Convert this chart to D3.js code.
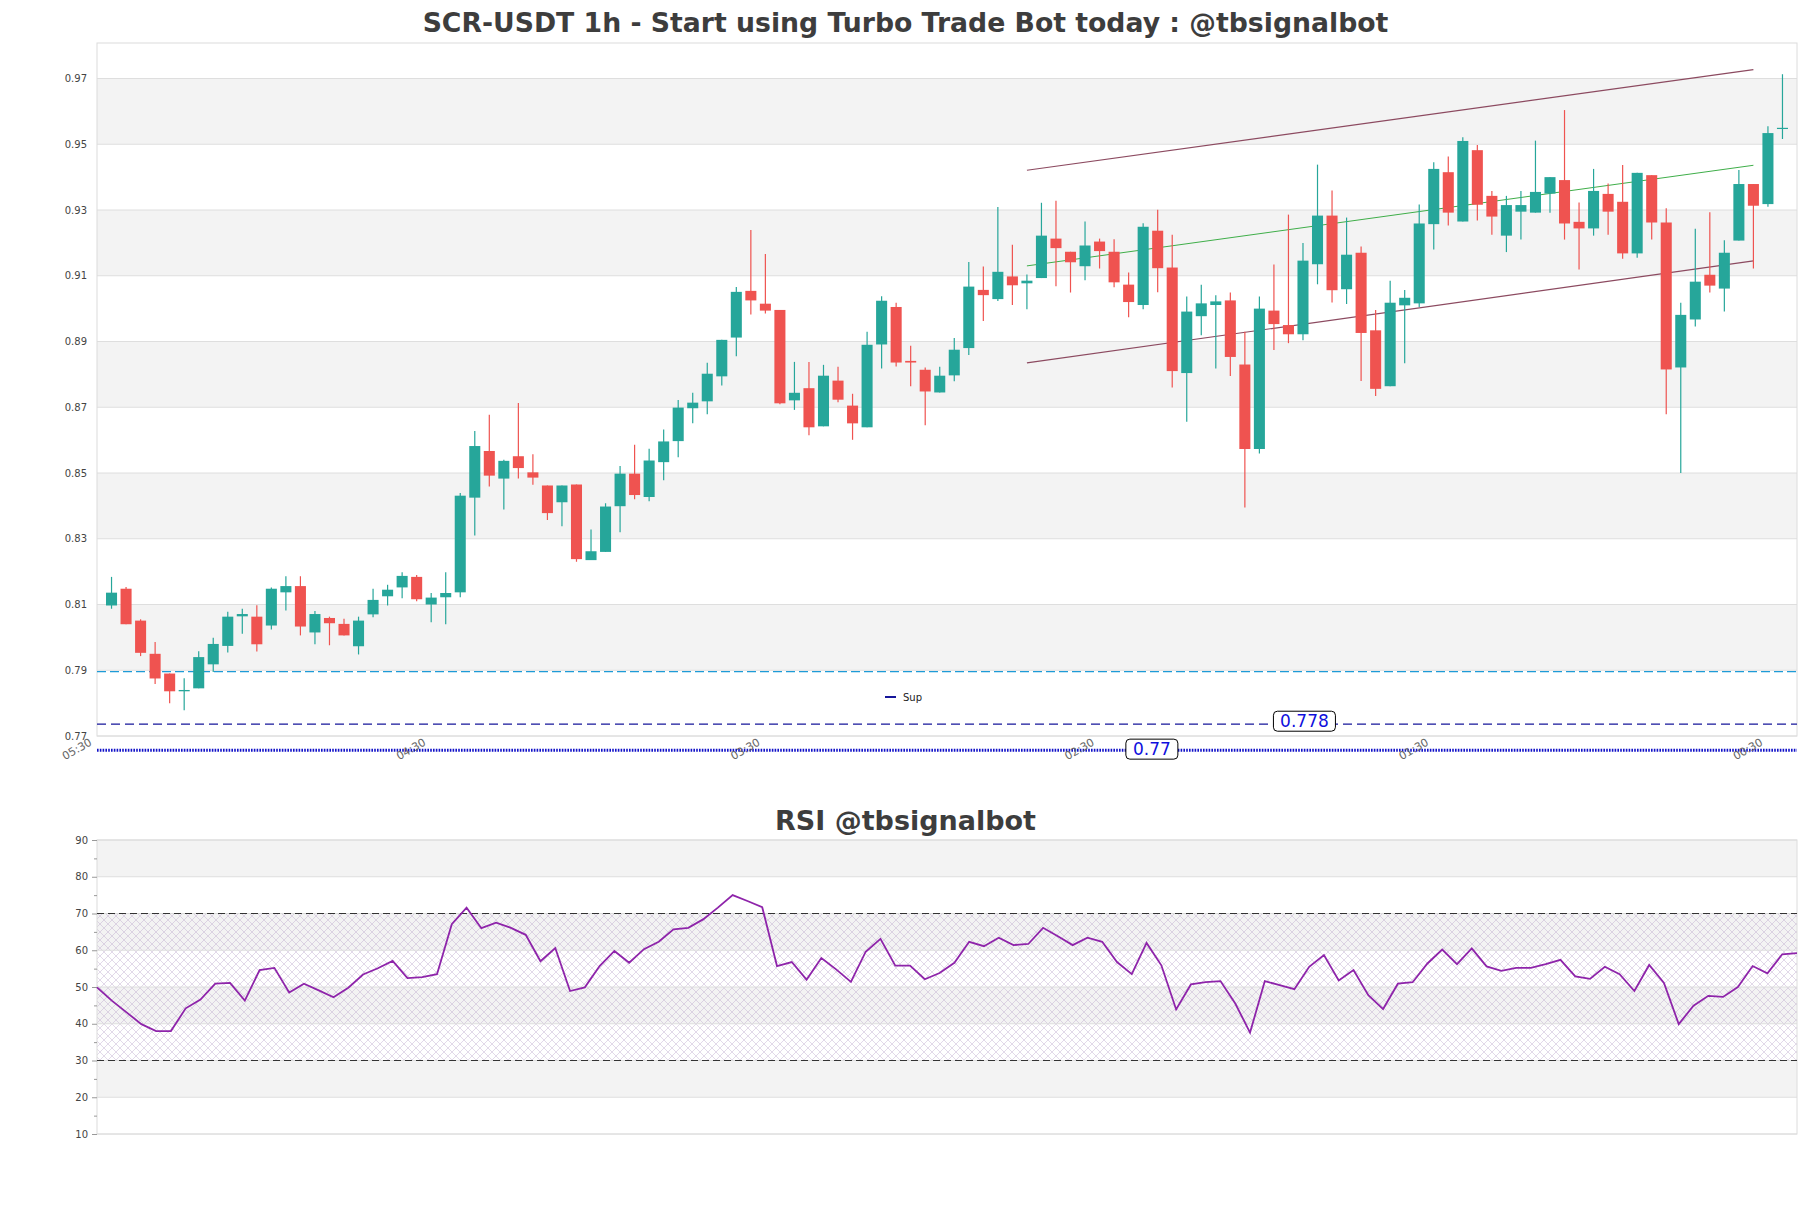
<!DOCTYPE html>
<html>
<head>
<meta charset="utf-8">
<script src="https://cdn.jsdelivr.net/npm/d3@7"></script>
<style>
  body { margin: 0; background: #fff; }
  svg { display: block; font-family: "DejaVu Sans", sans-serif; }
</style>
</head>
<body>
<script>
var w = 1811;
var h = 1208;

// candles, 1h, oldest first
var opens = [0.8097,0.8148,0.8051,0.7950,0.7890,0.7836,0.7845,0.7918,0.7974,0.8064,
  0.8063,0.8036,0.8137,0.8156,0.8015,0.8059,0.8041,0.7973,0.8070,0.8125,
  0.8152,0.8184,0.8100,0.8122,0.8137,0.8425,0.8567,0.8483,0.8551,0.8502,
  0.8462,0.8411,0.8465,0.8235,0.8260,0.8399,0.8498,0.8427,0.8533,0.8597,
  0.8697,0.8718,0.8794,0.8912,0.9054,0.9015,0.8996,0.8721,0.8758,0.8642,
  0.8781,0.8705,0.8639,0.8891,0.9005,0.8841,0.8814,0.8745,0.8797,0.8880,
  0.9057,0.9029,0.9098,0.9077,0.9093,0.9213,0.9173,0.9129,0.9204,0.9173,
  0.9073,0.9011,0.9237,0.9125,0.8804,0.8977,0.9011,0.9025,0.8830,0.8573,
  0.8994,0.8950,0.8922,0.9135,0.9283,0.9059,0.9170,0.8934,0.8764,0.9010,
  0.9016,0.9257,0.9415,0.9265,0.9482,0.9343,0.9222,0.9295,0.9292,0.9350,
  0.9391,0.9264,0.9244,0.9349,0.9325,0.9168,0.9406,0.9262,0.8821,0.8967,
  0.9103,0.9061,0.9207,0.9379,0.9318,0.9548];
var highs = [0.8184,0.8153,0.8055,0.7986,0.7890,0.7876,0.7958,0.7999,0.8078,0.8087,
  0.8098,0.8152,0.8186,0.8186,0.8080,0.8063,0.8057,0.8063,0.8148,0.8160,
  0.8198,0.8190,0.8135,0.8198,0.8439,0.8628,0.8677,0.8540,0.8713,0.8557,
  0.8462,0.8462,0.8465,0.8328,0.8408,0.8521,0.8586,0.8574,0.8632,0.8722,
  0.8744,0.8835,0.8905,0.9066,0.9239,0.9166,0.8996,0.8838,0.8838,0.8829,
  0.8823,0.8741,0.8930,0.9038,0.9018,0.8887,0.8821,0.8823,0.8911,0.9142,
  0.9128,0.9309,0.9194,0.9104,0.9322,0.9328,0.9173,0.9265,0.9213,0.9211,
  0.9110,0.9260,0.9301,0.9225,0.9037,0.9073,0.9041,0.9049,0.8930,0.9037,
  0.9134,0.9286,0.9200,0.9438,0.9359,0.9277,0.9189,0.8996,0.9085,0.9057,
  0.9317,0.9445,0.9463,0.9521,0.9498,0.9358,0.9343,0.9358,0.9511,0.9400,
  0.9604,0.9323,0.9425,0.9381,0.9437,0.9413,0.9406,0.9305,0.9018,0.9243,
  0.9293,0.9208,0.9422,0.9379,0.9555,0.9713];
var lows = [0.8087,0.8040,0.7943,0.7858,0.7800,0.7778,0.7845,0.7895,0.7954,0.8011,
  0.7957,0.8024,0.8082,0.8006,0.7979,0.7976,0.8006,0.7948,0.8061,0.8097,
  0.8119,0.8110,0.8046,0.8040,0.8122,0.8310,0.8459,0.8389,0.8483,0.8464,
  0.8357,0.8338,0.8230,0.8235,0.8260,0.8320,0.8420,0.8414,0.8478,0.8548,
  0.8651,0.8679,0.8766,0.8855,0.8982,0.8985,0.8709,0.8692,0.8615,0.8642,
  0.8715,0.8601,0.8639,0.8818,0.8824,0.8764,0.8645,0.8745,0.8779,0.8859,
  0.8962,0.9023,0.9011,0.8998,0.9093,0.9068,0.9049,0.9086,0.9122,0.9065,
  0.8974,0.8998,0.9050,0.8760,0.8656,0.8919,0.8818,0.8795,0.8395,0.8559,
  0.8874,0.8895,0.8904,0.9074,0.9019,0.9014,0.8780,0.8734,0.8764,0.8834,
  0.9005,0.9180,0.9253,0.9265,0.9268,0.9225,0.9172,0.9210,0.9292,0.9292,
  0.9210,0.9119,0.9222,0.9225,0.9152,0.9155,0.9210,0.8679,0.8500,0.8946,
  0.9049,0.8991,0.9207,0.9122,0.9310,0.9516];
var closes = [0.8136,0.8040,0.7953,0.7875,0.7836,0.7840,0.7940,0.7980,0.8063,0.8071,
  0.7979,0.8148,0.8156,0.8033,0.8071,0.8043,0.8006,0.8051,0.8114,0.8145,
  0.8187,0.8116,0.8121,0.8135,0.8431,0.8582,0.8492,0.8537,0.8515,0.8486,
  0.8378,0.8462,0.8238,0.8262,0.8398,0.8498,0.8433,0.8538,0.8596,0.8699,
  0.8714,0.8802,0.8905,0.9051,0.9025,0.8994,0.8712,0.8744,0.8639,0.8796,
  0.8723,0.8651,0.8890,0.9024,0.8836,0.8836,0.8748,0.8796,0.8875,0.9067,
  0.9041,0.9112,0.9071,0.9085,0.9222,0.9184,0.9141,0.9192,0.9175,0.9080,
  0.9020,0.9249,0.9123,0.8810,0.8991,0.9016,0.9022,0.8853,0.8573,0.9000,
  0.8953,0.8922,0.9146,0.9283,0.9056,0.9164,0.8926,0.8756,0.9018,0.9033,
  0.9259,0.9425,0.9292,0.9510,0.9316,0.9280,0.9315,0.9315,0.9355,0.9400,
  0.9259,0.9244,0.9358,0.9295,0.9168,0.9413,0.9262,0.8815,0.8981,0.9082,
  0.9070,0.9170,0.9379,0.9313,0.9534,0.9550];

var rsiValues = [49.9,46.3,43.1,39.9,38.0,38.0,44.2,46.6,50.9,51.1,
  46.3,54.6,55.2,48.5,50.9,49.1,47.2,49.8,53.4,55.1,
  57.1,52.4,52.7,53.5,67.1,71.6,66.0,67.5,66.1,64.2,
  57.0,60.6,48.9,49.9,55.7,59.8,56.6,60.3,62.3,65.7,
  66.1,68.4,71.6,75.0,73.4,71.7,55.7,56.8,52.0,57.9,
  54.8,51.4,59.6,63.1,55.8,55.8,52.1,53.8,56.6,62.3,
  61.1,63.4,61.4,61.7,66.1,63.8,61.4,63.4,62.3,56.8,
  53.5,62.0,55.9,43.9,50.7,51.3,51.6,45.5,37.6,51.6,
  50.5,49.4,55.5,58.7,51.8,54.6,47.8,44.0,50.9,51.3,
  56.4,60.2,56.2,60.5,55.6,54.4,55.2,55.2,56.2,57.4,
  52.9,52.2,55.5,53.5,48.9,56.0,51.1,39.9,44.9,47.6,
  47.3,50.0,55.7,53.7,58.9,59.2];

var priceTicks = [0.77,0.79,0.81,0.83,0.85,0.87,0.89,0.91,0.93,0.95,0.97];
var timeTickIndex = [-1, 22, 45, 68, 91, 114];
var timeTickLabels = ["05:30","04:30","03:30","02:30","01:30","00:30"];
var rsiTicks = [10,20,30,40,50,60,70,80,90];
var rsiMinorTicks = [15,25,35,45,55,65,75,85];
var rsiLevels = [30, 70];

// channel drawn on the right part: [candle index, price]
var channelUpper = [[63, 0.9421], [113, 0.9727]];
var channelMid = [[63, 0.9130], [113, 0.9436]];
var channelLower = [[63, 0.8835], [113, 0.9145]];

var supportValues = [0.7896, 0.7736, 0.7657];
var supportNames = ["", "0.778", "0.77"];

var upColor = "#26a69a";
var downColor = "#ef5350";

var svg = d3.select("body")
        .append("svg")
        .attr("width", w)
        .attr("height", h);

// ---------- main price chart ----------
var x = d3.scaleLinear()
        .domain([-1, closes.length])
        .range([97, 1797]);
var y = d3.scaleLinear()
        .domain([0.77, 0.9808])
        .range([736, 43]);

var main = svg.append("g");

var bands = priceTicks.slice(0, -1)
        .map(function (d, i) { return [d, priceTicks[i + 1]]; })
        .filter(function (d, i) { return i % 2 === 1; });

main.selectAll("rect.band")
        .data(bands)
        .enter()
        .append("rect")
        .attr("class", "band")
        .attr("x", x.range()[0])
        .attr("width", x.range()[1] - x.range()[0])
        .attr("y", function (d) { return y(d[1]); })
        .attr("height", function (d) { return y(d[0]) - y(d[1]); })
        .style("fill", "#f3f3f3");

main.selectAll("line.grid")
        .data(priceTicks)
        .enter()
        .append("line")
        .attr("class", "grid")
        .attr("x1", x.range()[0])
        .attr("x2", x.range()[1])
        .attr("y1", function (d) { return y(d); })
        .attr("y2", function (d) { return y(d); })
        .style("stroke", "#dedede")
        .style("stroke-width", 1);

main.append("rect")
        .attr("x", 97).attr("y", 43)
        .attr("width", 1700).attr("height", 693)
        .style("fill", "none")
        .style("stroke", "#dcdcdc");

var yAxis = main.append("g")
        .attr("transform", "translate(97,0)")
        .call(d3.axisLeft(y).tickValues(priceTicks).tickSize(0).tickPadding(10)
                .tickFormat(d3.format(".2f")));
yAxis.select(".domain").remove();
yAxis.selectAll("text")
        .style("font-family", "DejaVu Sans")
        .style("font-size", "10px")
        .style("fill", "#444");

// support / resistance lines
main.append("line")
        .attr("x1", 97).attr("x2", 1797)
        .attr("y1", y(supportValues[0])).attr("y2", y(supportValues[0]))
        .style("stroke", "#1e9bd7")
        .style("stroke-width", 1.3)
        .style("stroke-dasharray", "9,4");

main.append("line")
        .attr("x1", 97).attr("x2", 1797)
        .attr("y1", y(supportValues[1])).attr("y2", y(supportValues[1]))
        .style("stroke", "#16169a")
        .style("stroke-width", 1.3)
        .style("stroke-dasharray", "9,5");

main.append("line")
        .attr("x1", 97).attr("x2", 1797)
        .attr("y1", y(supportValues[2])).attr("y2", y(supportValues[2]))
        .style("stroke", "#1212c8")
        .style("stroke-width", 3)
        .style("stroke-dasharray", "1.6,1.2");

// time axis
var xAxis = main.append("g")
        .attr("transform", "translate(0,736)")
        .call(d3.axisBottom(x).tickValues(timeTickIndex).tickSize(0)
                .tickFormat(function (d, i) { return timeTickLabels[i]; }));
xAxis.select(".domain").remove();
xAxis.selectAll("text")
        .attr("x", 0).attr("y", 0).attr("dy", 0)
        .attr("transform", "translate(-5,8.5) rotate(-30)")
        .style("text-anchor", "end")
        .style("font-family", "DejaVu Sans")
        .style("font-size", "11px")
        .style("fill", "#666");

// label boxes for supports
function levelLabel(idx, value, text, boxW) {
    var cx = x(idx), cy = y(value);
    var g = main.append("g");
    g.append("rect")
            .attr("x", cx - boxW / 2).attr("y", cy - 10)
            .attr("width", boxW).attr("height", 20)
            .attr("rx", 4)
            .style("fill", "#fff")
            .style("stroke", "#000")
            .style("stroke-width", 1);
    g.append("text")
            .attr("x", cx).attr("y", cy + 6)
            .attr("text-anchor", "middle")
            .style("font-size", "17px")
            .style("fill", "#1010dd")
            .text(text);
}
levelLabel(82.1, supportValues[1] + 0.0009, supportNames[1], 62);
levelLabel(71.6, supportValues[2] + 0.0003, supportNames[2], 52);

// legend
main.append("line")
        .attr("x1", 885).attr("x2", 896)
        .attr("y1", 697).attr("y2", 697)
        .style("stroke", "#16169a")
        .style("stroke-width", 2);
main.append("text")
        .attr("x", 903).attr("y", 701)
        .style("font-size", "10px")
        .style("fill", "#222")
        .text("Sup");

// channel lines
var line = d3.line()
        .x(function (d) { return x(d[0]); })
        .y(function (d) { return y(d[1]); });

main.append("path").attr("d", line(channelUpper))
        .style("fill", "none").style("stroke", "#8c4a60").style("stroke-width", 1.2);
main.append("path").attr("d", line(channelLower))
        .style("fill", "none").style("stroke", "#8c4a60").style("stroke-width", 1.2);
main.append("path").attr("d", line(channelMid))
        .style("fill", "none").style("stroke", "#3fae49").style("stroke-width", 1);

// candles
var candles = closes.map(function (c, i) {
    return {i: i, o: opens[i], h: highs[i], l: lows[i], c: c};
});
var bodyW = (x(1) - x(0)) * 0.76;

main.append("g").selectAll("line")
        .data(candles)
        .enter()
        .append("line")
        .attr("x1", function (d) { return x(d.i); })
        .attr("x2", function (d) { return x(d.i); })
        .attr("y1", function (d) { return y(d.h); })
        .attr("y2", function (d) { return y(d.l); })
        .style("stroke", function (d) { return d.c >= d.o ? upColor : downColor; })
        .style("stroke-width", 1.2);

main.append("g").selectAll("rect")
        .data(candles)
        .enter()
        .append("rect")
        .attr("x", function (d) { return x(d.i) - bodyW / 2; })
        .attr("y", function (d) { return y(Math.max(d.o, d.c)); })
        .attr("width", bodyW)
        .attr("height", function (d) { return Math.max(1.2, Math.abs(y(d.o) - y(d.c))); })
        .style("fill", function (d) { return d.c >= d.o ? upColor : downColor; });

svg.append("text")
        .attr("x", w / 2).attr("y", 32)
        .attr("text-anchor", "middle")
        .style("font-size", "26.7px")
        .style("font-weight", "bold")
        .style("fill", "#3d3d3d")
        .text("SCR-USDT 1h - Start using Turbo Trade Bot today : @tbsignalbot");

// ---------- RSI ----------
var xr = d3.scaleLinear()
        .domain([0, rsiValues.length - 1])
        .range([97, 1797]);
var yr = d3.scaleLinear()
        .domain([10, 90])
        .range([1134, 840]);

var defs = svg.append("defs");
var pat = defs.append("pattern")
        .attr("id", "hatch")
        .attr("patternUnits", "userSpaceOnUse")
        .attr("width", 8).attr("height", 8);
pat.append("path").attr("d", "M0,0L8,8M8,0L0,8M-1,7L1,9M7,-1L9,1")
        .style("stroke", "#b49cc6")
        .style("stroke-width", 0.55)
        .style("opacity", 0.7);

var rsi = svg.append("g");

var rsiBands = [[80, 90], [60, 70], [40, 50], [20, 30]];
rsi.selectAll("rect.band")
        .data(rsiBands)
        .enter()
        .append("rect")
        .attr("x", 97).attr("width", 1700)
        .attr("y", function (d) { return yr(d[1]); })
        .attr("height", function (d) { return yr(d[0]) - yr(d[1]); })
        .style("fill", "#f3f3f3");

rsi.append("rect")
        .attr("x", 97).attr("width", 1700)
        .attr("y", yr(rsiLevels[1]))
        .attr("height", yr(rsiLevels[0]) - yr(rsiLevels[1]))
        .style("fill", "url(#hatch)");

rsi.selectAll("line.grid")
        .data(rsiTicks)
        .enter()
        .append("line")
        .attr("x1", 97).attr("x2", 1797)
        .attr("y1", function (d) { return yr(d); })
        .attr("y2", function (d) { return yr(d); })
        .style("stroke", "#dedede");

rsi.append("rect")
        .attr("x", 97).attr("y", 840)
        .attr("width", 1700).attr("height", 294)
        .style("fill", "none")
        .style("stroke", "#dcdcdc");

rsi.selectAll("line.level")
        .data(rsiLevels)
        .enter()
        .append("line")
        .attr("x1", 97).attr("x2", 1797)
        .attr("y1", function (d) { return yr(d); })
        .attr("y2", function (d) { return yr(d); })
        .style("stroke", "#333")
        .style("stroke-width", 1.2)
        .style("stroke-dasharray", "7,4");

var rAxis = rsi.append("g")
        .attr("transform", "translate(97,0)")
        .call(d3.axisLeft(yr).tickValues(rsiTicks).tickSize(5).tickPadding(4));
rAxis.select(".domain").remove();
rAxis.selectAll("line").style("stroke", "#999");
rAxis.selectAll("text")
        .style("font-family", "DejaVu Sans")
        .style("font-size", "10px")
        .style("fill", "#444");

var rMinor = rsi.append("g")
        .attr("transform", "translate(97,0)")
        .call(d3.axisLeft(yr).tickValues(rsiMinorTicks).tickSize(3).tickFormat(""));
rMinor.select(".domain").remove();
rMinor.selectAll("line").style("stroke", "#999");

rsi.append("path")
        .datum(rsiValues)
        .attr("d", d3.line()
                .x(function (d, i) { return xr(i); })
                .y(function (d) { return yr(d); }))
        .style("fill", "none")
        .style("stroke", "#8e24aa")
        .style("stroke-width", 1.8);

svg.append("text")
        .attr("x", w / 2).attr("y", 830)
        .attr("text-anchor", "middle")
        .style("font-size", "27px")
        .style("font-weight", "bold")
        .style("fill", "#3d3d3d")
        .text("RSI @tbsignalbot");
</script>
</body>
</html>
